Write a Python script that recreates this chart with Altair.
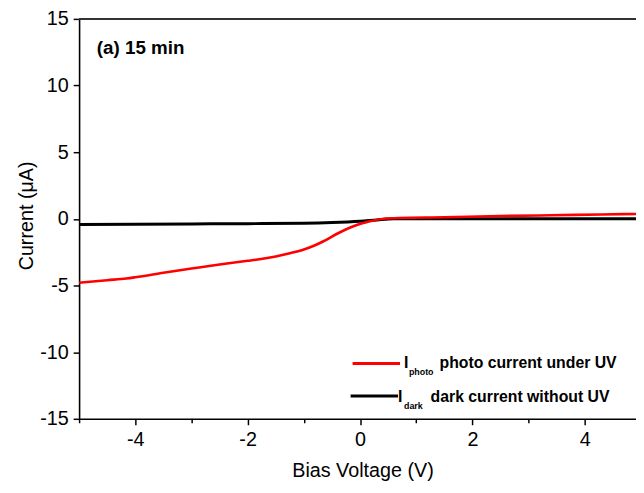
import altair as alt
import pandas as pd

# Photo current under UV (µA) vs bias voltage (V)
photo_v = [-5.0, -4.5, -4.16, -4.0, -3.5, -3.0, -2.5, -2.0, -1.82, -1.5, -1.25, -1.0, -0.8,
           -0.65, -0.4, -0.13, 0.16, 0.46, 0.7, 1.5, 2.3, 3.4, 4.3, 5.0]
photo_i = [-4.8, -4.6, -4.47, -4.38, -4.05, -3.73, -3.42, -3.15, -3.05, -2.82, -2.58, -2.3, -1.98,
           -1.68, -1.1, -0.57, -0.2, 0.02, 0.07, 0.12, 0.2, 0.27, 0.33, 0.37]

# Dark current without UV (µA)
dark_v = [-5.0, -4.0, -3.0, -2.0, -1.0, -0.5, 0.0, 0.3, 0.6, 1.0, 2.0, 3.0, 4.0, 5.0]
dark_i = [-0.42, -0.40, -0.38, -0.36, -0.33, -0.28, -0.18, -0.08, 0.0, 0.0, 0.0, 0.0, 0.0, 0.0]

x_ticks = [-5, -4, -3, -2, -1, 0, 1, 2, 3, 4]
y_ticks = [-15, -12.5, -10, -7.5, -5, -2.5, 0, 2.5, 5, 7.5, 10, 12.5, 15]

W, H = 564, 405
FONT = "Liberation Sans"

photo_df = pd.DataFrame({"V": photo_v, "I": photo_i})
dark_df = pd.DataFrame({"V": dark_v, "I": dark_i})

xscale = alt.Scale(domain=[-5, 4.912], nice=False, zero=False)
yscale = alt.Scale(domain=[-15, 15], nice=False, zero=False)

xaxis = alt.Axis(
    values=x_ticks, format="d",
    labelExpr="datum.value % 2 === 0 ? replace(datum.label, '\u2212', '-') : ''",
    tickSize={"condition": {"test": "datum.value % 2 === 0", "value": 6}, "value": 4},
    grid=False, domainColor="black", domainWidth=1.6, tickColor="black", tickWidth=1.5,
    labelFont=FONT, labelFontSize=20, labelColor="black", labelPadding=5,
    title="Bias Voltage (V)", titleFont=FONT, titleFontSize=20, titleFontWeight="normal",
    titleColor="black", titleX=287, titleY=58, titleBaseline="alphabetic",
    titleAlign="center",
)
yaxis = alt.Axis(
    values=y_ticks,
    labelExpr="datum.value % 5 === 0 ? replace(datum.label, '\u2212', '-') : ''",
    tickSize={"condition": {"test": "datum.value % 5 === 0", "value": 6}, "value": 4},
    grid=False, domainColor="black", domainWidth=1.6, tickColor="black", tickWidth=1.5,
    labelFont=FONT, labelFontSize=20, labelColor="black", labelPadding=5,
    title="Current (\u03bcA)", titleFont=FONT, titleFontSize=20, titleFontWeight="normal",
    titleColor="black", titleX=-47, titleY=199, titleAngle=-90,
    titleBaseline="alphabetic", titleAlign="center",
)

dark_line = alt.Chart(dark_df).mark_line(
    color="black", strokeWidth=3, clip=True, interpolate="monotone"
).encode(
    x=alt.X("V:Q", scale=xscale, axis=xaxis),
    y=alt.Y("I:Q", scale=yscale, axis=yaxis),
)
photo_line = alt.Chart(photo_df).mark_line(
    color="#ff0000", strokeWidth=2.6, clip=True, interpolate="monotone"
).encode(
    x=alt.X("V:Q", scale=xscale),
    y=alt.Y("I:Q", scale=yscale),
)

top_border = alt.Chart().mark_rule(color="#333333", strokeWidth=2).encode(
    x=alt.value(0), x2=alt.value(W), y=alt.value(0)
)

def txt(s, x, y, size, weight="bold"):
    return alt.Chart().mark_text(
        text=s, align="left", baseline="alphabetic", font=FONT,
        fontSize=size, fontWeight=weight, color="black"
    ).encode(x=alt.value(x), y=alt.value(y))

panel_title = txt("(a) 15 min", 18, 36, 19)

leg_red = alt.Chart().mark_rule(color="#ff0000", strokeWidth=3).encode(
    x=alt.value(277), x2=alt.value(325), y=alt.value(349)
)
leg_black = alt.Chart().mark_rule(color="black", strokeWidth=3).encode(
    x=alt.value(275), x2=alt.value(323), y=alt.value(382)
)
leg_t1 = [
    txt("I", 329, 354, 16),
    txt("photo", 334, 361, 9),
    txt("photo current under UV", 365, 354, 16),
]
leg_t2 = [
    txt("I", 323, 388, 16),
    txt("dark", 329, 395, 9),
    txt("dark current without UV", 356, 388, 16),
]

chart = alt.layer(
    dark_line, photo_line, top_border, panel_title, leg_red, leg_black, *leg_t1, *leg_t2
).properties(
    width=W, height=H, autosize="none",
    padding={"left": 72, "top": 8, "right": 0, "bottom": 64},
    background="white",
).configure_view(stroke=None)

chart.save("out.html", embed_options={"renderer": "svg", "actions": False})
